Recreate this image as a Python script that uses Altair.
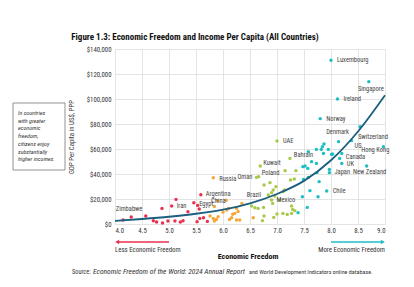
import altair as alt
import pandas as pd

# ---------------- data ----------------
groups = ["Least free", "Third quartile", "Second quartile", "Most free"]
group_colors = ["#e8314f", "#f5a63a", "#a9c94a", "#1cbfc4"]

red_score = [4.15, 4.30, 4.57, 4.71, 4.77, 4.87, 4.88, 4.98, 5.05, 5.13, 5.11, 5.21, 5.26,
             5.35, 5.46, 5.53, 5.59, 5.52, 5.57, 5.64, 5.56, 5.71]
red_gdp = [3200, 5600, 6400, 2600, 1600, 12500, 800, 2400, 14400, 19700, 2400, 1600, 2600,
           9900, 17000, 14900, 23400, 1900, 4500, 5000, 12000, 2100]
red_name = ["Zimbabwe", "", "", "", "", "", "", "", "Iran", "", "", "", "",
            "", "", "", "Argentina", "", "", "", "Egypt", ""]

orange_score = [5.82, 5.90, 6.06, 5.76, 5.82, 5.88, 5.91, 5.84, 6.07, 6.10, 6.12, 6.16, 6.22,
                6.25, 6.25, 6.31, 6.35, 6.56, 6.18, 5.84, 6.00, 6.28]
orange_gdp = [37000, 18700, 19000, 6400, 4500, 3700, 5900, 2400, 11200, 12500, 3700, 5000, 8500,
              12500, 3200, 3200, 16500, 5000, 7800, 14000, 9500, 10000]
orange_name = ["Russia", "", "", "", "", "", "", "", "", "", "", "", "",
               "", "", "", "Brazil", "", "", "China", "", ""]

green_score = [6.62, 6.53, 6.59, 6.65, 6.69, 6.66, 7.00, 7.24, 7.15, 7.35, 7.25, 7.32, 6.76,
               6.87, 6.98, 6.93, 6.90, 7.14, 7.11, 6.84, 6.90, 6.96, 6.75, 7.00, 7.11, 7.19,
               7.27, 7.29, 7.33, 7.27, 6.94, 6.76, 6.73, 6.92, 7.05]
green_gdp = [37300, 14400, 13000, 12500, 46400, 37900, 66400, 52500, 42700, 42700, 35200, 36000, 31200,
             33100, 29900, 27200, 25100, 27200, 25900, 23200, 19200, 22400, 13300, 8000, 8500, 7700,
             14400, 11700, 10700, 8500, 5300, 6400, 2700, 16500, 19200]
green_name = ["Oman", "", "", "", "Kuwait", "Poland", "UAE", "", "", "", "", "", "",
              "", "", "", "", "", "", "", "Mexico", "", "", "", "", "",
              "", "", "", "", "", "", "", "", ""]

teal_score = [7.39, 7.56, 7.47, 7.61, 7.76, 7.92, 7.78, 7.49, 7.58, 7.74, 7.48, 7.52, 7.57,
              7.64, 7.73, 7.58, 7.73, 7.82, 7.87, 7.84, 7.95, 7.86, 8.01, 7.97, 7.97, 8.14,
              8.54, 8.38, 8.20, 8.20, 8.97, 8.66, 7.80, 8.00, 8.70, 8.12, 8.03, 8.16]
teal_gdp = [9100, 13300, 21800, 26700, 21800, 26400, 33900, 35700, 37300, 41100, 45900, 46400, 44500,
            49900, 48500, 57900, 59700, 59700, 64000, 61900, 59700, 56500, 55700, 43700, 41100, 65900,
            77900, 66700, 56500, 48500, 61900, 46400, 84300, 131000, 113900, 100000, 56000, 52500]
teal_name = ["", "", "", "", "", "Chile", "", "", "", "", "", "", "",
             "Bahrain", "", "", "", "", "", "", "", "", "", "Japan", "", "Denmark",
             "Switzerland", "US", "Canada", "UK", "Hong Kong", "New Zealand", "Norway",
             "Luxembourg", "Singapore", "Ireland", "", ""]

trend_score = [4.0, 4.5, 5.0, 5.5, 6.0, 6.5, 7.0, 7.5, 8.0, 8.5, 9.0]
trend_gdp = [2500, 4000, 5800, 8200, 11500, 16500, 24000, 34500, 51000, 74000, 103000]

x_ticks = [4.0, 4.5, 5.0, 5.5, 6.0, 6.5, 7.0, 7.5, 8.0, 8.5, 9.0]
y_ticks = [0, 20000, 40000, 60000, 80000, 100000, 120000, 140000]

title_text = "Figure 1.3: Economic Freedom and Income Per Capita (All Countries)"
box_lines = ["In countries", "with greater", "economic", "freedom,", "citizens enjoy",
             "substantially", "higher incomes."]

# ---------------- styling ----------------
FONT = "Roboto Condensed, Liberation Sans Narrow, Arial Narrow, Roboto"
TXT = "#333333"

label_style = {  # dx, dy (pixels), align
    "Luxembourg": (6, 0, "left"), "Singapore": (2, 7, "center"), "Ireland": (6, 0, "left"),
    "Norway": (6, 0, "left"), "Denmark": (-1, -10, "center"), "Switzerland": (-2, 10, "left"),
    "US": (3, 5, "left"), "Canada": (4, 4, "left"), "UK": (5, 1, "left"),
    "Hong Kong": (6, 3, "right"), "New Zealand": (3, 6, "center"), "Japan": (5, 3, "left"),
    "Chile": (6, 0, "left"), "Bahrain": (-8, -7, "center"), "UAE": (6, 0, "left"),
    "Kuwait": (3, -3, "left"), "Poland": (3, -4, "left"), "Oman": (-4, 0, "right"),
    "Russia": (6, 1, "left"), "Argentina": (5, -1, "left"), "Iran": (5, 0, "left"),
    "Zimbabwe": (6, -11, "center"), "Egypt": (7, -5, "center"), "China": (4, -6, "center"),
    "Brazil": (12, -8, "center"), "Mexico": (5, 0, "left"),
}

rows = []
for g, xs, ys, ns in [(groups[0], red_score, red_gdp, red_name),
                      (groups[1], orange_score, orange_gdp, orange_name),
                      (groups[2], green_score, green_gdp, green_name),
                      (groups[3], teal_score, teal_gdp, teal_name)]:
    for xv, yv, nv in zip(xs, ys, ns):
        rows.append({"group": g, "score": xv, "gdp": yv, "name": nv})
df = pd.DataFrame(rows)
trend = pd.DataFrame({"score": trend_score, "gdp": trend_gdp})
one = pd.DataFrame({"a": [0]})

x_scale = alt.Scale(domain=[4, 9], nice=False, zero=False)
y_scale = alt.Scale(domain=[0, 140000], nice=False)
x_axis = alt.Axis(values=x_ticks, format=".1f", title=None, labelPadding=3, labelOverlap=False,
                  tickCount=11)
y_axis = alt.Axis(values=y_ticks, format="$,.0f", title="GDP Per Capita in US$, PPP",
                  titlePadding=12, labelPadding=4, labelOverlap=False, tickCount=8)
X = alt.X("score:Q", scale=x_scale, axis=x_axis)
Y = alt.Y("gdp:Q", scale=y_scale, axis=y_axis)

points = alt.Chart(df).mark_circle(size=12, opacity=1).encode(
    x=X, y=Y,
    color=alt.Color("group:N", scale=alt.Scale(domain=groups, range=group_colors), legend=None),
)

line = alt.Chart(trend).mark_line(color="#1b5e7e", strokeWidth=1.8, interpolate="monotone").encode(
    x=X, y=Y)

label_layers = []
labeled = df[df["name"] != ""]
for nm in labeled["name"]:
    dx, dy, al = label_style[nm]
    label_layers.append(
        alt.Chart(labeled[labeled["name"] == nm]).mark_text(
            font=FONT, fontSize=6.5, color="#444444", align=al, baseline="middle", dx=dx, dy=dy
        ).encode(x=X, y=Y, text="name:N"))


def txt(text, x, y, size=6.5, weight="normal", style="normal", align="left", color=TXT, angle=0):
    return alt.Chart(one).mark_text(text=text, font=FONT, fontSize=size, fontWeight=weight,
                                    fontStyle=style, align=align, baseline="middle", color=color,
                                    angle=angle).encode(x=alt.value(x), y=alt.value(y))


title = txt(title_text, 80, -12, size=9, weight="bold", align="center", color="#111111")
xtitle = txt("Economic Freedom", 133, 208, size=8, weight="bold", align="center", color="#111111")
src1 = txt("Source: ", -43, 223, size=6.3)
src2 = txt("Economic Freedom of the World: 2024 Annual Report", -22, 223, size=7.5, style="italic")
src3 = txt("and World Development Indicators online database.", 134, 223, size=6.1)

box = alt.Chart(one).mark_rect(fill=None, stroke="#777777", strokeWidth=0.8).encode(
    x=alt.value(-102), x2=alt.value(-50), y=alt.value(54), y2=alt.value(121))
box_text = [txt(t, -97, 64 + i * 7.7, size=6, style="italic") for i, t in enumerate(box_lines)]

red_arrow = alt.Chart(one).mark_rule(color=group_colors[0], strokeWidth=1.5).encode(
    x=alt.datum(4.05, scale=x_scale), x2=alt.datum(5.0), y=alt.value(193))
red_head = alt.Chart(one).mark_point(shape="triangle-left", filled=True, color=group_colors[0],
                                     size=22, opacity=1).encode(
    x=alt.datum(4.04, scale=x_scale), y=alt.value(193))
teal_arrow = alt.Chart(one).mark_rule(color=group_colors[3], strokeWidth=1.5).encode(
    x=alt.datum(8.0, scale=x_scale), x2=alt.datum(8.95), y=alt.value(193))
teal_head = alt.Chart(one).mark_point(shape="triangle-right", filled=True, color=group_colors[3],
                                      size=22, opacity=1).encode(
    x=alt.datum(8.96, scale=x_scale), y=alt.value(193))
less_t = alt.Chart(one).mark_text(text="Less Economic Freedom", font=FONT, fontSize=6.8, align="left",
                                  baseline="middle", color=TXT).encode(
    x=alt.datum(4.0, scale=x_scale), y=alt.value(201))
more_t = alt.Chart(one).mark_text(text="More Economic Freedom", font=FONT, fontSize=6.8, align="right",
                                  baseline="middle", color=TXT).encode(
    x=alt.datum(9.0, scale=x_scale), y=alt.value(201))

chart = alt.layer(
    points, line, *label_layers, title, xtitle, src1, src2, src3, box, *box_text,
    red_arrow, red_head, teal_arrow, teal_head, less_t, more_t
).properties(
    width=270, height=175,
    padding={"left": 115, "top": 49, "right": 29, "bottom": 63},
    autosize=alt.AutoSizeParams(type="none"),
    background="white",
).configure_view(stroke=None).configure_axis(
    grid=True, gridColor="#dddddd", gridWidth=0.8, domain=False, ticks=False,
    labelFont=FONT, labelFontSize=6.8, labelColor=TXT, titleFont=FONT, titleFontSize=6.8,
    titleColor=TXT, titleFontWeight="normal",
)

chart.save("out.html", embed_options={"renderer": "svg", "actions": False})
